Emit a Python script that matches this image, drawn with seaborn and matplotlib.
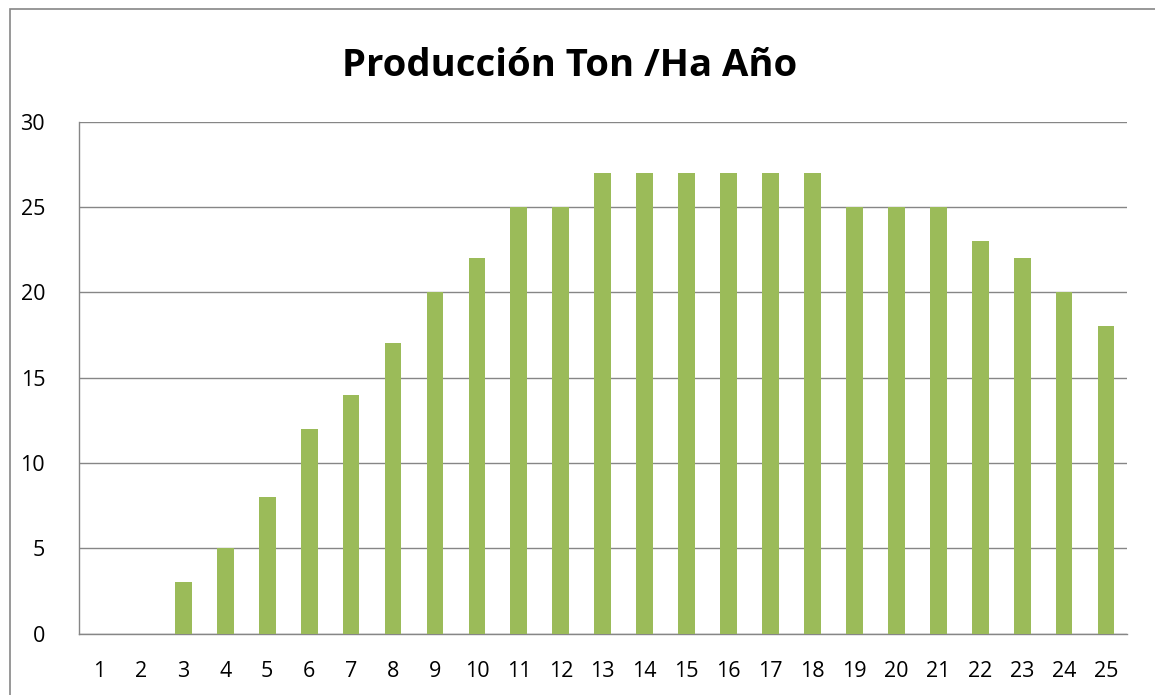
import matplotlib
matplotlib.use("Agg")
import matplotlib.pyplot as plt
import seaborn as sns
import pandas as pd
from matplotlib.patches import Rectangle

years = [str(i) for i in range(1, 26)]
production = [0, 0, 3, 5, 8, 12, 14, 17, 20, 22, 25, 25, 27, 27, 27, 27, 27, 27,
              25, 25, 25, 23, 22, 20, 18]
y_ticks = [0, 5, 10, 15, 20, 25, 30]
title = "Producción Ton /Ha Año"

df = pd.DataFrame({"year": years, "production": production})

sns.set_theme(style="white")
plt.rcParams["font.family"] = ["Open Sans", "DejaVu Sans"]

W, H = 1155, 695
fig = plt.figure(figsize=(W / 100, H / 100), dpi=100)
ax = fig.add_axes([78.5 / W, 1 - 633.5 / H, (1127 - 78.5) / W, (633.5 - 121.5) / H])

sns.barplot(data=df, x="year", y="production", color="#9BBB59", saturation=1,
            width=0.4, linewidth=0, edgecolor="none", ax=ax, zorder=3)

ax.set_ylim(0, 30)
ax.set_xlim(-0.5, len(years) - 0.5)
ax.set_yticks(y_ticks)
ax.yaxis.grid(True, color="#868686", linewidth=1.0, zorder=0)
ax.set_axisbelow(True)
ax.set_xlabel("")
ax.set_ylabel("")
for side in ["top", "right"]:
    ax.spines[side].set_visible(False)
for side in ["left", "bottom"]:
    ax.spines[side].set_color("#868686")
    ax.spines[side].set_linewidth(1.0)
ax.tick_params(axis="both", length=0, labelsize=15.5, colors="black")
ax.tick_params(axis="y", pad=24)
ax.tick_params(axis="x", pad=20)

fig.text(570 / W, 1 - 66 / H, title, ha="center", va="center",
         fontsize=27.5, fontweight="bold", color="black")

# outer chart border
fig.patches.append(Rectangle((9.5 / W, -0.1), 1.2, 1 - 9.5 / H + 0.1,
                             transform=fig.transFigure, fill=False,
                             edgecolor="#868686", linewidth=1.2))

fig.savefig("out.png", dpi=100)
